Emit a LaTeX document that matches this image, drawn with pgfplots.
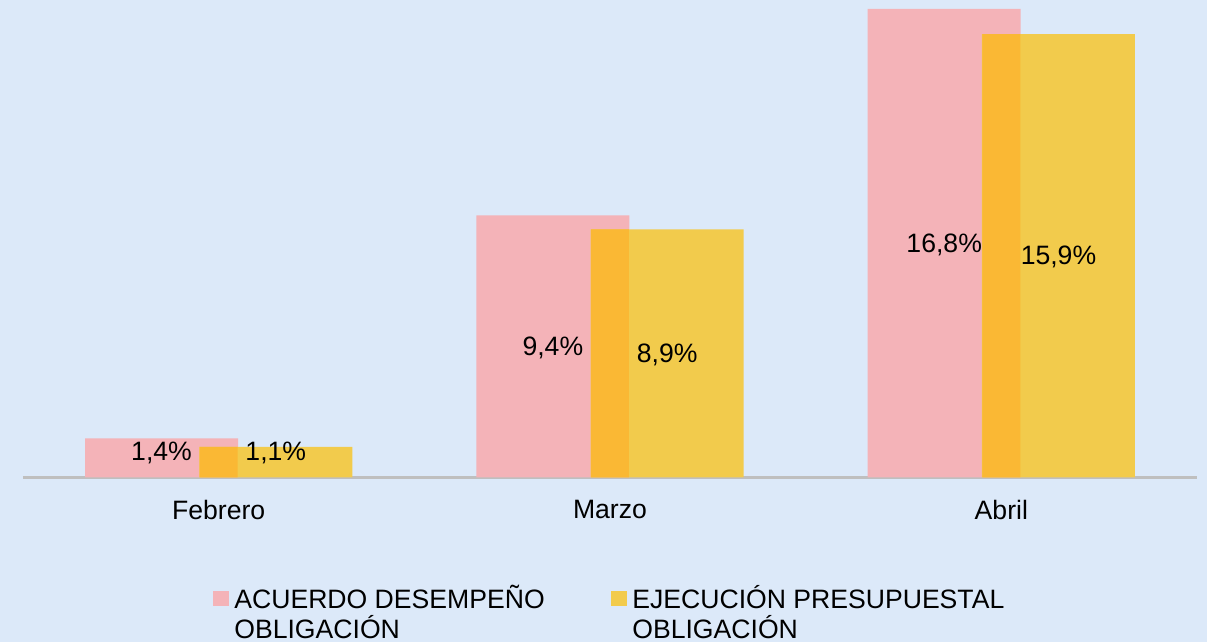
\documentclass[border=0pt]{standalone}
\usepackage{pgfplots}
\pgfplotsset{compat=1.18}
\usepackage{fontspec}
\setmainfont{Liberation Sans}

\definecolor{fondo}{HTML}{DCE9F9}
\definecolor{rosa}{HTML}{F4B3B8}
\definecolor{amarillo}{HTML}{F2CB4C}
\definecolor{cruce}{HTML}{FAB834}
\definecolor{eje}{HTML}{BFBFBF}

\begin{document}
\begin{tikzpicture}
\fill[fondo] (-11.5pt,-82.25pt) rectangle (592pt,238.75pt);
\begin{axis}[
    at={(0,0)}, anchor=south west,
    scale only axis,
    width=587pt, height=238.75pt,
    xmin=-0.5, xmax=2.5, ymin=0, ymax=17.12,
    axis y line=none,
    axis x line*=bottom,
    x axis line style={eje, line width=1.5pt, -},
    xtick={0,1,2},
    xticklabels={Febrero, Marzo, Abril},
    major tick length=0pt,
    xticklabel style={font=\fontsize{13.3pt}{15pt}\selectfont, inner sep=0pt, yshift=-11pt},
    clip=false,
    legend style={
        at={(0.1618,-0.2157)}, anchor=north west,
        draw=none, fill=none, inner sep=0pt,
        font=\fontsize{13.3pt}{15pt}\selectfont,
        /tikz/column sep=0.5pt,
        /tikz/every even column/.append style={column sep=6.5pt},
        cells={anchor=west},
    },
    legend columns=2,
    legend cell align=left,
    legend image code/.code={
        \fill (0pt,-3.75pt) rectangle (8pt,3.75pt);
    },
]
\addplot[ybar, fill=rosa, draw=none, bar width=0.391, bar shift=-0.146]
    coordinates {(0,1.4) (1,9.4) (2,16.8)};
\addlegendentry{\parbox[t]{180pt}{\raggedright ACUERDO DESEMPEÑO\\OBLIGACIÓN}}
\addplot[ybar, fill=amarillo, draw=none, bar width=0.391, bar shift=0.146]
    coordinates {(0,1.1) (1,8.9) (2,15.9)};
\addlegendentry{\parbox[t]{195pt}{\raggedright EJECUCIÓN PRESUPUESTAL\\OBLIGACIÓN}}
% zona donde se cruzan las dos barras
\addplot[ybar, fill=cruce, draw=none, bar width=0.097, bar shift=0, forget plot]
    coordinates {(0,1.1) (1,8.9) (2,15.9)};
% etiquetas de datos
\addplot[draw=none, mark=none, forget plot, nodes near coords,
    point meta=explicit symbolic,
    every node near coord/.style={anchor=base, yshift=-0.46em, inner sep=0pt,
        font=\fontsize{13.3pt}{15pt}\selectfont, text=black}]
    coordinates {
    (-0.146,0.95) [1,4\%] (0.854,4.7) [9,4\%] (1.854,8.4) [16,8\%]
    (0.146,0.95) [1,1\%] (1.146,4.45) [8,9\%] (2.146,7.95) [15,9\%]
    };
\end{axis}
\pgfresetboundingbox
\useasboundingbox (-11.5pt,-82.25pt) rectangle (592pt,238.75pt);
\end{tikzpicture}
\end{document}
